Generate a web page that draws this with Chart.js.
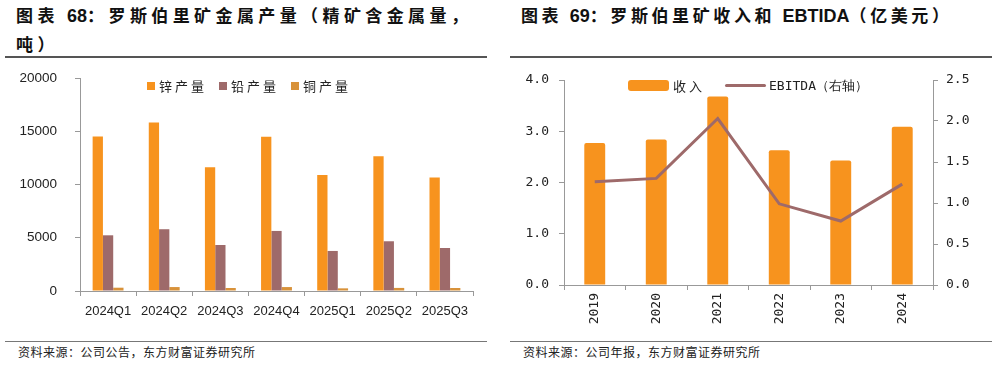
<!DOCTYPE html>
<html>
<head>
<meta charset="utf-8">
<script src="https://cdn.jsdelivr.net/npm/chart.js@4.4.1/dist/chart.umd.min.js"></script>
<style>
  body { margin: 0; background: #fff; width: 997px; height: 365px; position: relative; overflow: hidden; font-family: "Noto Sans CJK SC", sans-serif; }
  .title { position: absolute; top: 1px; font-size: 17px; font-weight: bold; letter-spacing: 4.4px; line-height: 28px; color: #111; }
  .title b { font-family: "Liberation Sans", Arial, sans-serif; font-size: 18px; letter-spacing: 0; }
  .rule { position: absolute; height: 2px; background: #555; }
  .thin { position: absolute; height: 1px; background: #777; }
  .src { position: absolute; top: 343px; font-size: 12px; color: #222; letter-spacing: 0.5px; }
  .box { position: absolute; top: 60px; height: 270px; }
  .leg { position: absolute; font-size: 13px; color: #222; display: flex; align-items: center; }
  .sw { display: inline-block; }
</style>
</head>
<body>
<div class="title" style="left:16px;">图表 <b>68</b>：罗斯伯里矿金属产量（精矿含金属量，<br>吨）</div>
<div class="title" style="left:521px; letter-spacing:3.6px;">图表 <b>69</b>：罗斯伯里矿收入和 <b>EBTIDA</b>（亿美元）</div>
<div class="rule" style="left:5px; width:482px; top:56px;"></div>
<div class="rule" style="left:510px; width:482px; top:56px;"></div>

<div class="box" style="left:0; width:490px;"><canvas id="c1"></canvas></div>
<div class="box" style="left:500px; width:497px;"><canvas id="c2"></canvas></div>

<div class="leg" style="left:147px; top:76px; letter-spacing:3px;">
  <span class="sw" style="width:8px;height:8px;background:#F7931E;margin-right:4px;"></span>锌产量
  <span class="sw" style="width:8px;height:8px;background:#9E6A6A;margin:0 4px 0 12px;"></span>铅产量
  <span class="sw" style="width:8px;height:8px;background:#D8923A;margin:0 4px 0 12px;"></span>铜产量
</div>
<div class="leg" style="left:628px; top:76px;">
  <span class="sw" style="width:41px;height:11px;background:#F7931E;border-radius:3px;margin-right:4px;"></span><span style="letter-spacing:3px;">收入</span>
  <span class="sw" style="width:41px;height:3px;background:#9E6A6A;border-radius:2px;margin:0 3px 0 20px;"></span><span style="font-family:'DejaVu Sans Mono',monospace;">EBITDA（右轴）</span>
</div>

<div class="thin" style="left:5px; width:482px; top:341px;"></div>
<div class="thin" style="left:510px; width:482px; top:341px;"></div>
<div class="src" style="left:18px;">资料来源：公司公告，东方财富证券研究所</div>
<div class="src" style="left:523px;">资料来源：公司年报，东方财富证券研究所</div>

<script>
// 罗斯伯里矿金属产量 (吨)
const quarters = ['2024Q1', '2024Q2', '2024Q3', '2024Q4', '2025Q1', '2025Q2', '2025Q3'];
const zinc = [14500, 15830, 11630, 14480, 10900, 12660, 10650];
const lead = [5230, 5800, 4320, 5640, 3760, 4670, 4040];
const copper = [310, 370, 280, 370, 250, 290, 280];

// 收入和 EBITDA (亿美元)
const years = ['2019', '2020', '2021', '2022', '2023', '2024'];
const revenue = [2.77, 2.84, 3.68, 2.63, 2.43, 3.09];
const ebitda = [1.26, 1.30, 2.03, 0.99, 0.78, 1.23];

Chart.defaults.animation = false;
Chart.defaults.color = '#222';

const axisGrey = '#999';

// fixed axis width, and no extra top/bottom padding from tick labels
fixWidth = function (w) {
    return function (s) {
        s.width = w;
        s.paddingTop = 0;
        s.paddingBottom = 0;
    };
};

CreateProductionChart = function (x) {
    const TheChart = new Chart(x, {
        type: 'bar',
        data: {
            labels: quarters,
            datasets: [
                { label: '锌产量', data: zinc, backgroundColor: '#F7931E' },
                { label: '铅产量', data: lead, backgroundColor: '#9E6A6A' },
                { label: '铜产量', data: copper, backgroundColor: '#D8923A' }
            ]
        },
        options: {
            responsive: true,
            maintainAspectRatio: false,
            layout: { padding: { top: 18, right: 17, left: 0, bottom: 0 } },
            datasets: { bar: { categoryPercentage: 0.55, barPercentage: 1.0 } },
            plugins: { legend: { display: false }, tooltip: { enabled: false } },
            scales: {
                x: {
                    grid: { drawOnChartArea: false, drawTicks: true, tickLength: 5, color: axisGrey, offset: true },
                    border: { color: axisGrey },
                    ticks: { font: { family: 'Liberation Sans', size: 13 }, maxRotation: 0, padding: 8 },
                    afterFit: function (s) { s.height = 39; }
                },
                y: {
                    min: 0, max: 20000,
                    grid: { drawOnChartArea: false, drawTicks: true, tickLength: 5, color: axisGrey },
                    border: { color: axisGrey },
                    ticks: {
                        stepSize: 5000, font: { family: 'Liberation Sans', size: 13.5 }, padding: 18,
                        callback: function (v) { return String(v); }
                    },
                    afterFit: fixWidth(80)
                }
            }
        }
    });
};

CreateRevenueChart = function (x) {
    const TheChart = new Chart(x, {
        type: 'bar',
        data: {
            labels: years,
            datasets: [
                {
                    type: 'line', label: 'EBITDA（右轴）', data: ebitda, yAxisID: 'y2',
                    borderColor: '#9E6A6A', borderWidth: 3, pointRadius: 0, tension: 0, order: 0
                },
                {
                    label: '收入', data: revenue, yAxisID: 'y', backgroundColor: '#F7931E',
                    categoryPercentage: 0.34, barPercentage: 1.0, borderRadius: 2, order: 1
                }
            ]
        },
        options: {
            responsive: true,
            maintainAspectRatio: false,
            layout: { padding: { top: 20, right: 0, left: 0, bottom: 0 } },
            plugins: { legend: { display: false }, tooltip: { enabled: false } },
            scales: {
                x: {
                    grid: { drawOnChartArea: false, drawTicks: true, tickLength: 5, color: axisGrey, offset: true },
                    border: { color: axisGrey },
                    ticks: { font: { family: 'DejaVu Sans Mono', size: 13 }, minRotation: 90, maxRotation: 90, padding: 3 },
                    afterFit: function (s) { s.height = 45; }
                },
                y: {
                    position: 'left', min: 0, max: 4,
                    grid: { drawOnChartArea: false, drawTicks: true, tickLength: 5, color: axisGrey },
                    border: { color: axisGrey },
                    ticks: {
                        stepSize: 1, font: { family: 'DejaVu Sans Mono', size: 13 }, padding: 10,
                        callback: function (v) { return v.toFixed(1); }
                    },
                    afterFit: fixWidth(64)
                },
                y2: {
                    position: 'right', min: 0, max: 2.5,
                    grid: { drawOnChartArea: false, drawTicks: true, tickLength: 5, color: axisGrey },
                    border: { color: axisGrey },
                    ticks: {
                        stepSize: 0.5, font: { family: 'DejaVu Sans Mono', size: 13 }, padding: 8,
                        callback: function (v) { return v.toFixed(1); }
                    },
                    afterFit: fixWidth(64)
                }
            }
        }
    });
};

CreateProductionChart(document.getElementById('c1'));
CreateRevenueChart(document.getElementById('c2'));
</script>
</body>
</html>
